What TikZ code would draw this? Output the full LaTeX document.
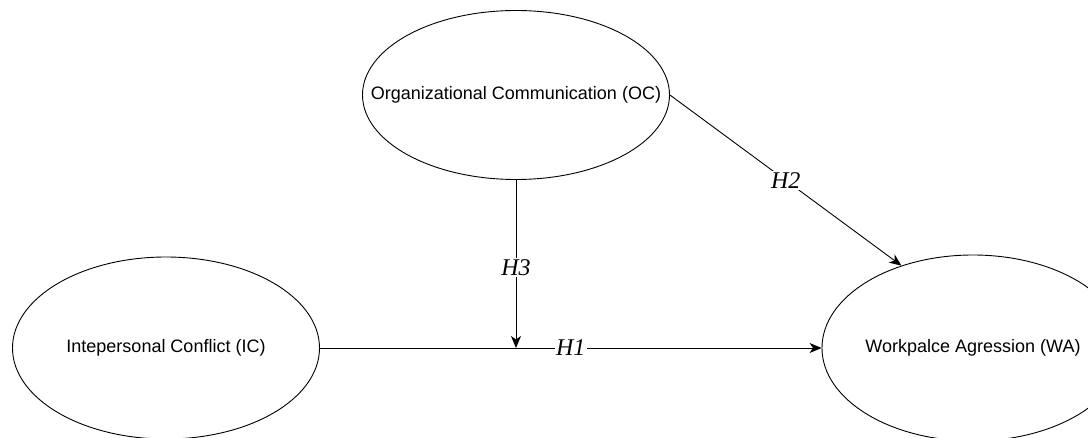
\documentclass[tikz,border=0pt]{standalone}
\usepackage{fontspec}
\setmainfont{Liberation Sans}
\newfontfamily\hypfont{Liberation Serif}
\usepackage{tikz}
\usetikzlibrary{arrows.meta,shapes.geometric}

\begin{document}
\begin{tikzpicture}[x=1pt,y=1pt,
	latent_node/.style={ellipse,draw,line width=0.9pt,inner sep=0pt},
	latent_text/.style={label={[font=\fontsize{18}{22}\selectfont]center:#1}},
	hyp_label/.style={fill=white,inner sep=1.5pt,font=\hypfont\itshape\fontsize{24}{28}\selectfont},
	path_arrow/.style={line width=0.9pt,-{Stealth[length=12pt,width=10pt,inset=3.5pt]}}]
	\useasboundingbox (0,0) rectangle (1088,437);
	\node[latent_node,minimum width=307pt,minimum height=169pt,latent_text={Organizational Communication (OC)}] (oc) at (516,342) {};
	\node[latent_node,minimum width=307pt,minimum height=182pt,latent_text={Intepersonal Conflict (IC)}] (ic) at (166,89) {};
	\node[latent_node,minimum width=302pt,minimum height=186pt,latent_text={Workpalce Agression (WA)}] (wa) at (973,89) {};
	\coordinate (mod) at (oc.south |- ic.east);
	
	\draw[path_arrow] (ic.east) -- node[hyp_label,pos=0.5] {H1} (wa.west);
	\draw[path_arrow] (oc.east) -- node[hyp_label,pos=0.5] {H2} (wa.131);
	\draw[path_arrow] (oc.south) -- node[hyp_label,pos=0.52] {H3} (mod);
\end{tikzpicture}
\end{document}
